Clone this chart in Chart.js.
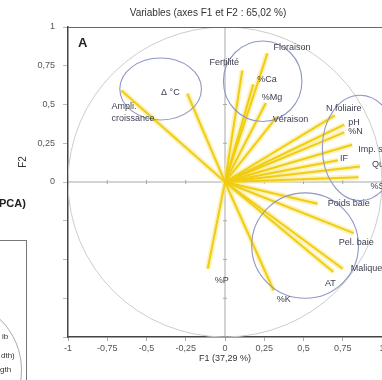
<!DOCTYPE html>
<html><head><meta charset="utf-8">
<script src="https://cdn.jsdelivr.net/npm/chart.js@4.4.1/dist/chart.umd.min.js"></script>
<style>
html,body{margin:0;padding:0;background:#fff;}
#wrap{position:relative;width:382px;height:380px;overflow:hidden;background:#fff;}
#c{position:absolute;left:0;top:0;}
.frag{position:absolute;font-family:"Liberation Sans",Arial,sans-serif;color:#333;white-space:nowrap;}
</style></head><body>
<div id="wrap">
<canvas id="c" width="382" height="380"></canvas>
<div class="frag" style="left:-1px;top:197px;font-weight:bold;font-size:11px;color:#222;">PCA)</div>
<div style="position:absolute;left:-2px;top:240px;width:28px;height:150px;border-top:1px solid #777;border-right:1px solid #777;overflow:hidden;">
  <div style="position:absolute;left:-118px;top:58px;width:140px;height:140px;border:1px solid #aaa;border-radius:50%;"></div>
  <div class="frag" style="left:4px;top:91px;font-size:8px;">ib</div>
  <div class="frag" style="left:3px;top:110px;font-size:8px;">dth)</div>
  <div class="frag" style="left:2px;top:124px;font-size:8px;">gth</div>
</div>
</div>
<script>
// ---- data ----
const variableNames = ["Ampli.\ncroissance","Δ °C","Fertilité","Floraison","%Ca","%Mg","Véraison",
  "N foliaire","pH","%N","Imp. sucre","IF","Qualité","%S",
  "Poids baie","Pel. baie","Malique","AT","%K","%P"];
const f1Values = [-0.66,-0.24,0.11,0.27,0.18,0.26,0.33,
  0.70,0.76,0.76,0.81,0.72,0.86,0.85,
  0.59,0.82,0.75,0.69,0.31,-0.11];
const f2Values = [0.59,0.57,0.72,0.83,0.63,0.51,0.42,
  0.43,0.37,0.32,0.24,0.14,0.10,0.03,
  -0.14,-0.33,-0.56,-0.58,-0.70,-0.56];
const xTickValues = [-1,-0.75,-0.5,-0.25,0,0.25,0.5,0.75,1];
const yTickValues = [-1,-0.75,-0.5,-0.25,0,0.25,0.5,0.75,1];
// group ellipses (F1/F2 units)
const groupCenterF1 = [-0.41, 0.24, 0.86, 0.51];
const groupCenterF2 = [0.60, 0.65, 0.22, -0.41];
const groupRadiusF1 = [0.26, 0.25, 0.24, 0.34];
const groupRadiusF2 = [0.20, 0.26, 0.34, 0.34];
const chartTitle = "Variables (axes F1 et F2 : 65,02 %)";
const xTitle = "F1 (37,29 %)";
const yTitle = "F2";
const panelLabel = "A";

// ---- label placement (pixels, style) ----
const labelOffsets = [[-10,16,'left'],[-17,-1,'center'],[-18,-8,'center'],[6,-6,'left'],[4,-5,'left'],[-4,-5,'left'],[-4,3,'left'],
  [-9,-7,'left'],[4,-2,'left'],[4,-1,'left'],[6,5,'left'],[2,-2,'left'],[12,-2,'left'],[12,9,'left'],
  [10,0,'left'],[-15,9,'left'],[8,0,'left'],[-3,12,'center'],[10,9,'center'],[14,12,'center']];

const FONT = '"Liberation Sans", Arial, sans-serif';
const fmt = v => String(v).replace('.', ',');

const datasets = [];
variableNames.forEach((n, i) => {
  datasets.push({data:[{x:0,y:0},{x:f1Values[i],y:f2Values[i]}], showLine:true, borderColor:'rgba(250,234,140,0.6)', borderWidth:5.5, pointRadius:0, order:2});
  datasets.push({data:[{x:0,y:0},{x:f1Values[i],y:f2Values[i]}], showLine:true, borderColor:'#f1cd12', borderWidth:2, pointRadius:0, order:1});
});

const decor = {
  id:'decor',
  beforeDatasetsDraw(chart){
    const {ctx, chartArea:a, scales:{x,y}} = chart;
    ctx.save();
    ctx.beginPath(); ctx.rect(a.left, a.top, a.right-a.left, a.bottom-a.top); ctx.clip();
    const cx = x.getPixelForValue(0), cy = y.getPixelForValue(0);
    ctx.strokeStyle = '#cccccc'; ctx.lineWidth = 1;
    ctx.beginPath();
    ctx.ellipse(cx, cy, x.getPixelForValue(1)-cx, cy-y.getPixelForValue(1), 0, 0, Math.PI*2);
    ctx.stroke();
    ctx.strokeStyle = '#a8a8a8';
    ctx.beginPath(); ctx.moveTo(a.left, cy); ctx.lineTo(a.right, cy);
    ctx.moveTo(cx, a.top); ctx.lineTo(cx, a.bottom); ctx.stroke();
    ctx.beginPath();
    xTickValues.forEach(v => { const px = x.getPixelForValue(v); ctx.moveTo(px, cy-2); ctx.lineTo(px, cy+2); });
    yTickValues.forEach(v => { const py = y.getPixelForValue(v); ctx.moveTo(cx-2, py); ctx.lineTo(cx+2, py); });
    ctx.stroke();
    ctx.restore();
    ctx.save();
    ctx.strokeStyle = '#666'; ctx.lineWidth = 1;
    ctx.beginPath(); ctx.moveTo(a.left, a.top+0.5); ctx.lineTo(a.right, a.top+0.5); ctx.stroke();
    ctx.restore();
  },
  afterDatasetsDraw(chart){
    const {ctx, chartArea:a, scales:{x,y}} = chart;
    ctx.save();
    ctx.strokeStyle = '#8e98c2'; ctx.lineWidth = 1.1;
    groupCenterF1.forEach((c, i) => {
      const px = x.getPixelForValue(c), py = y.getPixelForValue(groupCenterF2[i]);
      const rx = x.getPixelForValue(c + groupRadiusF1[i]) - px;
      const ry = py - y.getPixelForValue(groupCenterF2[i] + groupRadiusF2[i]);
      ctx.beginPath(); ctx.ellipse(px, py, rx, ry, 0, 0, Math.PI*2); ctx.stroke();
    });
    ctx.fillStyle = '#3d3d4d'; ctx.font = '9px ' + FONT; ctx.textBaseline = 'middle';
    variableNames.forEach((n, i) => {
      const px = x.getPixelForValue(f1Values[i]), py = y.getPixelForValue(f2Values[i]);
      const [dx, dy, al] = labelOffsets[i];
      ctx.textAlign = al;
      n.split('\n').forEach((line, k) => ctx.fillText(line, px+dx, py+dy+k*12));
    });
    ctx.font = 'bold 13px ' + FONT; ctx.fillStyle = '#222'; ctx.textAlign = 'left';
    ctx.fillText(panelLabel, a.left+10, a.top+16);
    ctx.font = '10px ' + FONT; ctx.fillStyle = '#333'; ctx.textAlign = 'center';
    ctx.fillText(chartTitle, 208, 13);
    ctx.translate(23, 162); ctx.rotate(-Math.PI/2);
    ctx.font = '10px ' + FONT; ctx.fillText(yTitle, 0, 0);
    ctx.restore();
  }
};

new Chart(document.getElementById('c'), {
  type:'scatter',
  data:{datasets},
  options:{
    responsive:false, animation:false,
    layout:{padding:{top:27,left:0,right:0,bottom:0}},
    plugins:{legend:{display:false}, tooltip:{enabled:false}, title:{display:false}},
    scales:{
      x:{type:'linear', min:-1, max:1,
        afterBuildTicks: s => { s.ticks = xTickValues.map(v => ({value:v})); },
        afterFit: s => { s.height = 43; s.paddingLeft = 0; s.paddingRight = 0; },
        ticks:{callback: v => fmt(v), font:{size:9, family:FONT}, color:'#555', padding:2, maxRotation:0, autoSkip:false},
        grid:{drawOnChartArea:false, drawTicks:true, tickLength:4, color:'#aaa'},
        border:{display:true, color:'#444', width:1.5},
        title:{display:true, text:xTitle, font:{size:9, family:FONT}, color:'#333', padding:{top:0, bottom:16}}
      },
      y:{type:'linear', min:-1, max:1,
        afterBuildTicks: s => { s.ticks = yTickValues.map(v => ({value:v})); },
        afterFit: s => { s.width = 68; s.paddingTop = 0; s.paddingBottom = 0; },
        ticks:{callback: v => v < 0 ? '' : fmt(v), font:{size:9, family:FONT}, color:'#555', padding:8, autoSkip:false},
        grid:{drawOnChartArea:false, drawTicks:true, tickLength:5, color:'#bbb'},
        border:{display:true, color:'#444', width:1.5}
      }
    }
  },
  plugins:[decor]
});
</script>
</body></html>
